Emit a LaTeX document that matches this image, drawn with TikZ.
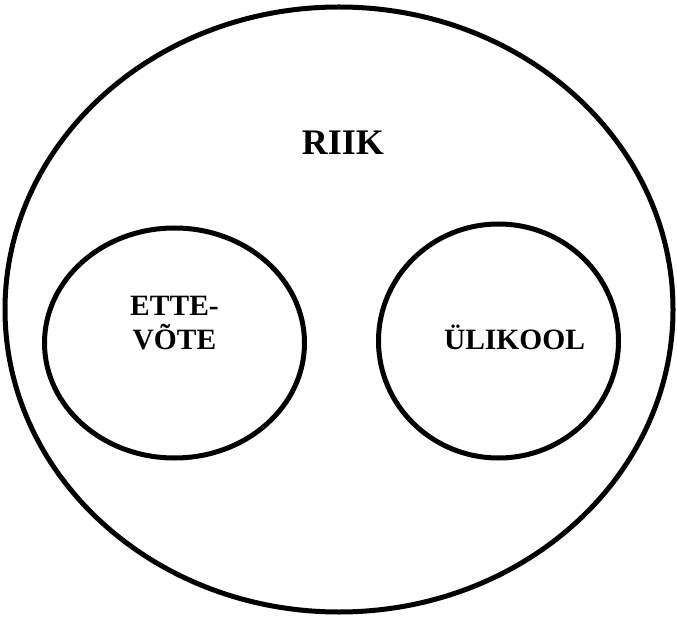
\documentclass[tikz,border=0pt]{standalone}
\usepackage{fontspec}
\setmainfont{Liberation Serif}
\usetikzlibrary{shapes.geometric}
\begin{document}
\begin{tikzpicture}[x=1pt,y=-1pt,
  ring/.style={draw=black, line width=5pt, ellipse, inner sep=0pt, outer sep=0pt},
  lbl/.style={font=\bfseries\fontsize{29.5}{34}\selectfont, align=center, anchor=base, inner sep=0pt}]
\useasboundingbox (0,0) rectangle (677,617);
\node[ring, minimum width=668pt, minimum height=605pt] (riik) at (339,309.5) {};
\node[ring, minimum width=260pt, minimum height=230pt] (ettevote) at (174.5,343) {};
\node[ring, minimum width=240pt, minimum height=234pt] (ylikool) at (498.5,341) {};
\node[font=\bfseries\fontsize{36}{42}\selectfont, anchor=base, inner sep=0pt] (riiklbl) at (343,155) {RIIK};
\node[lbl] (etlbl) at (174.5,350) {ETTE-\\VÕTE};
\node[lbl] (ylbl) at (514.5,350) {ÜLIKOOL};
\end{tikzpicture}
\end{document}
